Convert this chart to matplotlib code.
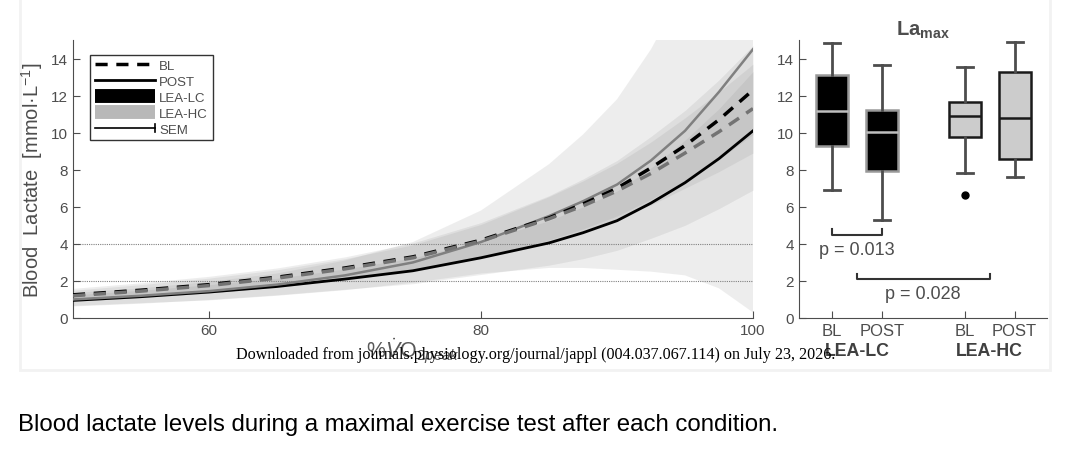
import numpy as np
import matplotlib
matplotlib.use('Agg')
import matplotlib.pyplot as plt
from matplotlib.lines import Line2D
from matplotlib.legend_handler import HandlerBase
from matplotlib.patches import Rectangle

plt.rcParams['font.family'] = ['Liberation Sans', 'DejaVu Sans']
plt.rcParams['mathtext.fontset'] = 'custom'
plt.rcParams['mathtext.rm'] = 'Liberation Sans'
plt.rcParams['mathtext.it'] = 'Liberation Sans:italic'
plt.rcParams['mathtext.bf'] = 'Liberation Sans:bold'

# left panel: lactate curves vs %VO2peak
vo2 = [50, 55, 60, 65, 70, 75, 80, 85, 87.5, 90, 92.5, 95, 97.5, 100]
bl_lc = [1.25, 1.5, 1.8, 2.2, 2.7, 3.3, 4.2, 5.4, 6.15, 7.0, 8.1, 9.3, 10.7, 12.3]
post_lc = [0.95, 1.15, 1.4, 1.7, 2.1, 2.55, 3.25, 4.05, 4.6, 5.25, 6.2, 7.3, 8.6, 10.1]
bl_hc = [1.2, 1.45, 1.75, 2.15, 2.65, 3.25, 4.15, 5.35, 6.05, 6.85, 7.8, 8.9, 10.05, 11.3]
post_hc = [1.0, 1.2, 1.45, 1.8, 2.3, 3.0, 4.1, 5.5, 6.3, 7.2, 8.5, 10.1, 12.2, 14.5]
sem_bl_lc = [0.35, 0.4, 0.45, 0.5, 0.6, 0.75, 0.95, 1.2, 1.35, 1.5, 1.7, 1.9, 2.15, 2.4]
sem_post_lc = [0.3, 0.35, 0.4, 0.45, 0.55, 0.7, 0.9, 1.2, 1.4, 1.6, 1.9, 2.3, 2.7, 3.2]
sem_bl_hc = [0.3, 0.35, 0.4, 0.45, 0.55, 0.7, 0.9, 1.2, 1.35, 1.5, 1.7, 1.9, 2.15, 2.4]
sem_post_hc = [0.35, 0.4, 0.5, 0.6, 0.8, 1.1, 1.7, 2.8, 3.6, 4.6, 6.0, 7.8, 10.6, 14.2]

# right panel: La max boxes
box_labels = ['BL', 'POST', 'BL', 'POST']
box_pos = [1, 2, 3.65, 4.65]
whis_lo = [6.9, 5.3, 7.83, 7.6]
q1 = [9.28, 7.92, 9.76, 8.58]
med = [11.15, 10.03, 10.9, 10.77]
q3 = [13.09, 11.2, 11.67, 13.26]
whis_hi = [14.85, 13.64, 13.57, 14.88]
fliers = [[], [], [6.64], []]
groups = ['LEA-LC', 'LEA-HC']
p_values = ['p = 0.013', 'p = 0.028']

fig = plt.figure(figsize=(10.92, 4.56), dpi=100)
fig.patches.append(Rectangle((20 / 1092, 1 - 371 / 456), 1030 / 1092, 372 / 456,
                             transform=fig.transFigure, facecolor='white',
                             edgecolor='0.95', lw=2, zorder=-10))

ax = fig.add_axes([73 / 1092, 1 - 319 / 456, 680 / 1092, 278 / 456])
ax2 = fig.add_axes([799 / 1092, 1 - 319 / 456, 248 / 1092, 278 / 456])

x = np.array(vo2)
for m, s in [(bl_lc, sem_bl_lc), (post_lc, sem_post_lc), (bl_hc, sem_bl_hc), (post_hc, sem_post_hc)]:
    m = np.array(m)
    s = np.array(s)
    ax.fill_between(x, m - s, m + s, color='0.55', alpha=0.15, lw=0)

ax.axhline(2, color='0.5', lw=0.8, ls=(0, (1, 1)), zorder=1)
ax.axhline(4, color='0.5', lw=0.8, ls=(0, (1, 1)), zorder=1)

ax.plot(x, post_lc, color='black', lw=2, zorder=3)
ax.plot(x, post_hc, color='0.5', lw=1.8, zorder=3)
ax.plot(x, bl_lc, color='black', lw=2.5, ls=(0, (3.5, 2.5)), zorder=4)
ax.plot(x, bl_hc, color='0.45', lw=2.5, ls=(0, (3.5, 2.5)), zorder=4)

ax.set_xlim(50, 100)
ax.set_ylim(0, 15)
ax.set_xticks([60, 80, 100])
ax.set_yticks(range(0, 15, 2))
for a in (ax, ax2):
    a.spines['top'].set_visible(False)
    a.spines['right'].set_visible(False)
    a.spines['left'].set_color('0.3')
    a.spines['bottom'].set_color('0.3')
    a.tick_params(direction='in', length=5, colors='0.3', labelcolor='0.3', labelsize=11)
    a.patch.set_alpha(0)

ax.set_ylabel('Blood  Lactate  [mmol·L$^{-1}$]', fontsize=14.5, color='0.3')
ax.yaxis.set_label_coords(-0.041, 0.5)
ax.set_xlabel(r'%$\dot{V}$O$_{2peak}$', fontsize=15.5, color='0.35', labelpad=-1)


class SemHandler(HandlerBase):
    def create_artists(self, legend, orig_handle, xdescent, ydescent, width, height, fontsize, trans):
        y = (height - ydescent) / 2
        x0, x1 = -xdescent, width - xdescent
        l1 = Line2D([x0, x1], [y, y], color='black', lw=1.2, transform=trans)
        l2 = Line2D([x1, x1], [y - height * 0.45, y + height * 0.45], color='black', lw=1.2, transform=trans)
        return [l1, l2]


sem_handle = Line2D([], [], color='black')
handles = [
    Line2D([], [], color='black', lw=2.5, ls=(0, (3.5, 2.5))),
    Line2D([], [], color='black', lw=2),
    Line2D([], [], color='black', lw=10, solid_capstyle='butt'),
    Line2D([], [], color='0.72', lw=10, solid_capstyle='butt'),
    sem_handle,
]
leg = ax.legend(handles, ['BL', 'POST', 'LEA-LC', 'LEA-HC', 'SEM'],
                loc='upper left', bbox_to_anchor=(0.025, 0.946), borderaxespad=0,
                fontsize=9.5, handlelength=4.6, handletextpad=0.3, labelspacing=0.28,
                fancybox=False, framealpha=1, edgecolor='0.2', borderpad=0.35,
                handler_map={sem_handle: SemHandler()})
leg.get_frame().set_linewidth(1)
for t in leg.get_texts():
    t.set_color('0.3')

# boxes
stats = []
for i in range(len(box_pos)):
    stats.append({'med': med[i], 'q1': q1[i], 'q3': q3[i],
                  'whislo': whis_lo[i], 'whishi': whis_hi[i], 'fliers': fliers[i]})
bp = ax2.bxp(stats, positions=box_pos, widths=0.64, patch_artist=True,
             whiskerprops=dict(color='0.3', lw=2), capprops=dict(color='0.3', lw=2),
             flierprops=dict(marker='o', markerfacecolor='black', markeredgecolor='black', markersize=5))
for i, b in enumerate(bp['boxes']):
    if i < 2:
        b.set_facecolor('black')
        b.set_edgecolor('0.6')
        bp['medians'][i].set_color('0.75')
    else:
        b.set_facecolor('0.8')
        b.set_edgecolor('0.1')
        bp['medians'][i].set_color('0.1')
    b.set_linewidth(1.8)
    bp['medians'][i].set_linewidth(1.8)

ax2.set_xlim(0.34, 5.3)
ax2.set_ylim(0, 15)
ax2.set_yticks(range(0, 15, 2))
ax2.set_xticks(box_pos)
ax2.set_xticklabels(box_labels, fontsize=12)
ax2.set_title(r'$\mathbf{La}_{\mathbf{max}}$', fontsize=14.5, color='0.3', pad=4)

ax2.plot([box_pos[0], box_pos[0], box_pos[1], box_pos[1]], [4.8, 4.5, 4.5, 4.8], color='0.2', lw=1.5)
mid_lc = (box_pos[0] + box_pos[1]) / 2
mid_hc = (box_pos[2] + box_pos[3]) / 2
ax2.plot([mid_lc, mid_lc, mid_hc, mid_hc], [2.35, 2.1, 2.1, 2.35], color='0.2', lw=1.5)
ax2.text(mid_lc, 3.7, p_values[0], ha='center', va='center', fontsize=13, color='0.3')
ax2.text((mid_lc + mid_hc) / 2, 1.3, p_values[1], ha='center', va='center', fontsize=13, color='0.3')
for g, xm in zip(groups, [mid_lc, mid_hc]):
    ax2.annotate(g, xy=(xm, -0.118), xycoords=('data', 'axes fraction'), ha='center', va='center',
                 fontsize=12.8, fontweight='bold', color='0.25', annotation_clip=False)

fig.text(236 / 1092, 1 - 355 / 456,
         'Downloaded from journals.physiology.org/journal/jappl (004.037.067.114) on July 23, 2026.',
         family=['Liberation Serif', 'DejaVu Serif'], fontsize=11.6, va='center', ha='left')

fig.text(18 / 1092, 1 - 425 / 456,
         'Blood lactate levels during a maximal exercise test after each condition.',
         fontsize=17.3, va='center', ha='left', color='black')

fig.savefig('out.png', dpi=100)
